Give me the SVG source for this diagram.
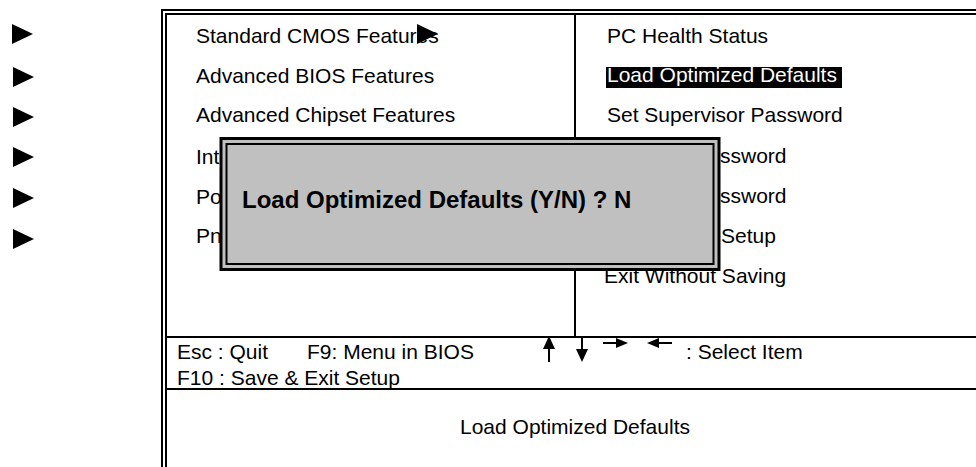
<svg xmlns="http://www.w3.org/2000/svg" width="976" height="467" viewBox="0 0 976 467">
<style>
.t{font-family:"Liberation Sans",Arial,sans-serif;font-size:21px;fill:#000}
.b{font-family:"Liberation Sans",Arial,sans-serif;font-size:24px;font-weight:bold;fill:#000}
.ln{stroke:#000;stroke-width:2;fill:none}
</style>
<defs>
<polygon id="tri" points="0,0 21,10 0,20" fill="#000"/>
</defs>
<rect width="976" height="467" fill="#fff"/>
<g id="bullets">
<use href="#tri" x="12" y="24"/>
<use href="#tri" x="13" y="67"/>
<use href="#tri" x="13" y="107"/>
<use href="#tri" x="13" y="147"/>
<use href="#tri" x="13" y="188"/>
<use href="#tri" x="13" y="229"/>
</g>
<g id="frame">
<rect class="ln" x="162" y="10" width="840" height="500"/>
<rect class="ln" x="166" y="14" width="830" height="490"/>
<line class="ln" x1="575" y1="14" x2="575" y2="337"/>
<line class="ln" x1="166" y1="337" x2="976" y2="337"/>
<line class="ln" x1="166" y1="389" x2="976" y2="389"/>
</g>
<g id="left-menu">
<text class="t" x="196" y="43">Standard CMOS Features</text>
<text class="t" x="196" y="83">Advanced BIOS Features</text>
<text class="t" x="196" y="122">Advanced Chipset Features</text>
<text class="t" x="196" y="164">Inte</text>
<text class="t" x="196" y="204">Po</text>
<text class="t" x="196" y="243">Pn</text>
<use href="#tri" x="417" y="24"/>
</g>
<g id="right-menu">
<text class="t" x="607" y="43">PC Health Status</text>
<rect x="606" y="67" width="236" height="21" fill="#000"/>
<text class="t" x="607" y="82" fill="#fff" style="fill:#fff">Load Optimized Defaults</text>
<text class="t" x="607" y="122">Set Supervisor Password</text>
<text class="t" x="720" y="163">ssword</text>
<text class="t" x="720" y="203">ssword</text>
<text class="t" x="721" y="243">Setup</text>
<text class="t" x="604" y="283">Exit Without Saving</text>
</g>
<g id="dialog">
<rect x="221" y="138.5" width="498" height="131" fill="#c0c0c0" stroke="#000" stroke-width="3"/>
<rect x="226.5" y="144" width="487" height="120" fill="#c0c0c0" stroke="#000" stroke-width="2"/>
<text class="b" x="242" y="208">Load Optimized Defaults (Y/N) ? N</text>
</g>
<g id="help">
<text class="t" x="177" y="359">Esc : Quit</text>
<text class="t" x="307" y="359">F9: Menu in BIOS</text>
<text class="t" x="177" y="385">F10 : Save &amp; Exit Setup</text>
<text class="t" x="686" y="359">: Select Item</text>
<text class="t" x="575" y="434" text-anchor="middle">Load Optimized Defaults</text>
</g>
<g id="connectors">
<line x1="549" y1="348" x2="549" y2="362" stroke="#000" stroke-width="2"/>
<polygon points="543,349 555,349 549,336" fill="#000"/>
<line x1="582" y1="336" x2="582" y2="350" stroke="#000" stroke-width="2"/>
<polygon points="576,349 588,349 582,362" fill="#000"/>
<line x1="603" y1="343" x2="617" y2="343" stroke="#000" stroke-width="2"/>
<polygon points="616,338 628,343 616,348" fill="#000"/>
<line x1="658" y1="343" x2="672" y2="343" stroke="#000" stroke-width="2"/>
<polygon points="659,338 647,343 659,348" fill="#000"/>
</g>
</svg>
